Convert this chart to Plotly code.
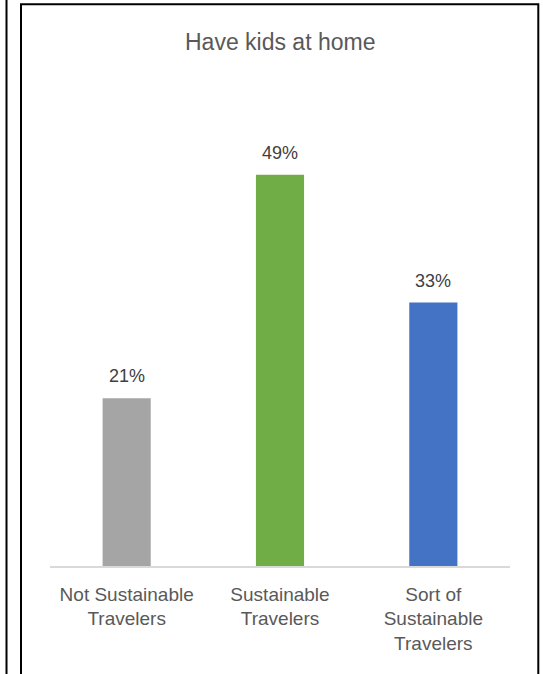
import plotly.graph_objects as go

categories = ["Not Sustainable<br>Travelers", "Sustainable<br>Travelers", "Sort of<br>Sustainable<br>Travelers"]
values = [0.21, 0.49, 0.33]
labels = ["21%", "49%", "33%"]
colors = ["#A5A5A5", "#70AD47", "#4472C4"]
title_text = "Have kids at home"

W, H = 543, 674
L, R, T, B = 50, 33, 87, 108
pw = W - L - R
ph = H - T - B

def px(x):
    return (x - L) / pw

def py(y):
    return (H - B - y) / ph

fig = go.Figure()
fig.add_trace(go.Bar(x=categories, y=values, marker=dict(color=colors, line=dict(width=0)),
                     hoverinfo="skip"))

for c, v, t in zip(categories, values, labels):
    fig.add_annotation(x=c, y=v, text=t, showarrow=False, yanchor="bottom", yshift=10,
                       font=dict(family="Liberation Sans, Arial, sans-serif", size=18, color="#404040"))

fig.add_annotation(x=0.5, xref="paper", y=py(42), yref="paper", text=title_text, showarrow=False,
                   yanchor="middle", xanchor="center",
                   font=dict(family="Liberation Sans, Arial, sans-serif", size=23, color="#595959"))

# outer border shapes
fig.add_shape(type="line", xref="paper", yref="paper", x0=px(6.5), x1=px(6.5), y0=py(0), y1=py(H + 10),
              line=dict(color="#000000", width=2))
fig.add_shape(type="rect", xref="paper", yref="paper", x0=px(21), x1=px(538.3), y0=py(4.3), y1=py(H + 20),
              line=dict(color="#000000", width=2))

fig.update_layout(
    width=W, height=H,
    margin=dict(l=L, r=R, t=T, b=B),
    paper_bgcolor="white", plot_bgcolor="white",
    bargap=0.686,
    showlegend=False,
    font=dict(family="Liberation Sans, Arial, sans-serif", color="#595959"),
)
fig.update_xaxes(showline=True, linecolor="#D9D9D9", linewidth=1.5, ticks="", showgrid=False,
                 tickfont=dict(size=19, color="#595959"), ticklabelstandoff=10)
fig.update_yaxes(range=[0, 0.6], visible=False, showgrid=False, zeroline=False)

fig.write_html("out.html", config={"displayModeBar": False})
